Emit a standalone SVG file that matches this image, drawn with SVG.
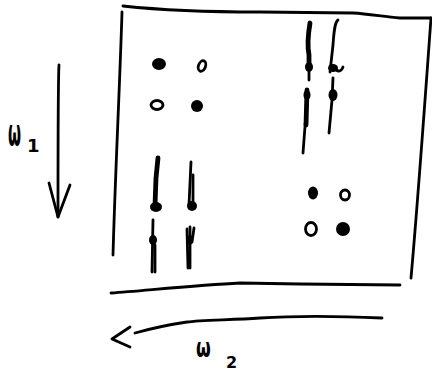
<svg xmlns="http://www.w3.org/2000/svg" width="432" height="373" viewBox="0 0 432 373">
<style>
.s{fill:none;stroke:#000;stroke-width:2.8;stroke-linecap:round;stroke-linejoin:round}
.t{stroke-width:4.8}
.f{fill:#000;stroke:none}
.r{fill:none;stroke:#000;stroke-width:2.8}
.lbl{font-family:"DejaVu Sans",sans-serif;font-weight:bold;fill:#000}
</style>
<rect width="432" height="373" fill="#fff"/>
<g id="frame">
<path class="s" d="M123,6 C160,10 200,12 260,12 L353,13 C370,14 385,17 400,18 L431,18"/>
<path class="s" d="M122,12 C120,80 115,180 113,255"/>
<path class="s" d="M431,18 C425,100 418,200 411,278"/>
<path class="s" d="M111,293 C150,290 200,285 240,283 L300,284 L400,285"/>
</g>
<g id="dots-top-left">
<ellipse class="f" cx="159" cy="64" rx="7" ry="6"/>
<ellipse class="r" cx="202" cy="66" rx="3.5" ry="5.5" transform="rotate(20 202 66)"/>
<ellipse class="r" cx="157" cy="105" rx="6" ry="4.5"/>
<ellipse class="f" cx="197" cy="106" rx="6" ry="6"/>
</g>
<g id="dots-bottom-right">
<ellipse class="f" cx="313" cy="193" rx="5" ry="6.5"/>
<ellipse class="r" cx="345" cy="195" rx="4.5" ry="5"/>
<ellipse class="r" cx="311" cy="229" rx="5.5" ry="6.5"/>
<ellipse class="f" cx="343" cy="229" rx="7" ry="7"/>
</g>
<g id="strokes-top-right">
<path class="s t" d="M310,23 C308,35 307,45 309,55 L309,68"/>
<path class="s" d="M309,68 L309,80"/>
<ellipse class="f" cx="309" cy="67" rx="4" ry="5"/>
<path class="s t" d="M307,90 L306,125"/>
<path class="s" d="M307,100 L303,153"/>
<ellipse class="f" cx="307" cy="95" rx="3.5" ry="5"/>
<path class="s" d="M338,20 C335,22 334,30 333,45 L330,72"/>
<ellipse class="f" cx="333" cy="68" rx="5" ry="4"/>
<path class="s" d="M336,70 Q341,73 343,67"/>
<path class="s" d="M333,78 L332,100 L329,133"/>
<ellipse class="f" cx="333" cy="95" rx="4.5" ry="6"/>
</g>
<g id="strokes-bottom-left">
<path class="s t" d="M158,158 L156,178 L155,205"/>
<ellipse class="f" cx="156" cy="207" rx="6" ry="5"/>
<path class="s" d="M153,220 L152,272"/>
<path class="s" d="M155,245 L155,272"/>
<ellipse class="f" cx="153" cy="240" rx="4" ry="5"/>
<path class="s" d="M191,162 L189,205"/>
<path class="s" d="M193,175 L193,205"/>
<ellipse class="f" cx="192" cy="206" rx="5" ry="5"/>
<path class="s" d="M190,227 L190,268"/>
<path class="s" d="M187,229 L188,268"/>
<path class="s" d="M194,228 L192,242"/>
<ellipse class="f" cx="190" cy="240" rx="3" ry="5"/>
</g>
<g id="connectors">
<g id="arrow-w1">
<path class="s" d="M59,65 C58,80 58,150 58,217"/>
<path class="s" d="M49,183 L58,217 L70,185"/>
</g>
<g id="arrow-w2">
<path class="s" d="M382,318 C340,316 290,316 260,318 C230,320 200,320 187,322 Q160,326 135,333"/>
<path class="s" d="M130,327 L112,339 L130,347"/>
</g>
</g>
<g id="label-w1">
<text class="lbl" transform="translate(8,145) scale(0.75,1.9)" font-size="20">ω</text>
<text class="lbl" x="27" y="152" font-size="18">1</text>
</g>
<g id="label-w2">
<text class="lbl" transform="translate(196,357) scale(0.85,1.35)" font-size="20">ω</text>
<text class="lbl" x="226" y="368" font-size="16">2</text>
</g>
</svg>
